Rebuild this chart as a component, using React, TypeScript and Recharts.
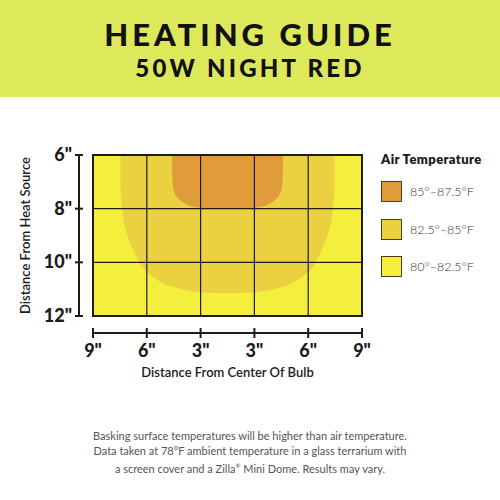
import React from 'react';
import {
  ComposedChart,
  Area,
  XAxis,
  YAxis,
  ReferenceArea,
  ReferenceLine,
  Label
} from 'recharts';

// columns are evenly spaced, labelled outward from the bulb
const xTicks = [0, 1, 2, 3, 4, 5];
const xTickLabels = ['9"', '6"', '3"', '3"', '6"', '9"'];
const yTicks = [6, 8, 10, 12];
const yTickLabels = ['6"', '8"', '10"', '12"'];

// 82.5-85F zone: lower edge (inches from heat source) along the width
const warmX = [0.51, 0.54, 0.63, 0.75, 0.87, 1.03, 1.25, 1.49, 1.86, 2.04, 2.5, 2.96, 3.14, 3.51, 3.75, 3.97, 4.13, 4.25, 4.37, 4.46, 4.49];
const warmDepth = [7.2, 8.0, 8.92, 9.54, 10.04, 10.41, 10.72, 10.91, 11.09, 11.13, 11.14, 11.13, 11.09, 10.91, 10.72, 10.41, 10.04, 9.54, 8.92, 8.0, 7.2];

// 85-87.5F zone
const hotX = [1.47, 1.48, 1.52, 1.62, 1.77, 1.93, 2.08, 2.5, 2.92, 3.07, 3.23, 3.38, 3.48, 3.52, 3.53];
const hotDepth = [6.6, 7.06, 7.43, 7.68, 7.87, 7.95, 7.99, 8.0, 7.99, 7.95, 7.87, 7.68, 7.43, 7.06, 6.6];

const legendLabels = ['85°–87.5°F', '82.5°–85°F', '80°–82.5°F'];

const HOT = '#e09b3b';
const WARM = '#ebd13f';
const MILD = '#f4ef3d';
const INK = '#1c1c1c';
const legendColors = [HOT, WARM, MILD];

const CHART_H = 500;
const MARGIN = { top: 155, right: 138, bottom: 120, left: 23 };
const X_AXIS_H = 64;
const PLOT_H = CHART_H - MARGIN.top - MARGIN.bottom - X_AXIS_H;
const Y_STEP = PLOT_H / (yTicks.length - 1);

const allX = Array.from(new Set([...warmX, ...hotX])).sort((a, b) => a - b);
const data = allX.map((x) => {
  const wi = warmX.indexOf(x);
  const hi = hotX.indexOf(x);
  return {
    x,
    warm: wi >= 0 ? [yTicks[0], warmDepth[wi]] : null,
    hot: hi >= 0 ? [yTicks[0], hotDepth[hi]] : null
  };
});

const XTick = (props: any) => {
  const { x, y, payload } = props;
  return (
    <text x={x} y={y + 31} textAnchor="middle" fontSize={18} fontWeight={900} fill={INK}>
      {xTickLabels[xTicks.indexOf(payload.value)]}
    </text>
  );
};

// y axis sits a little left of the plot: tick marks and the axis line are drawn here
const YTick = (props: any) => {
  const { x, y, payload } = props;
  const last = payload.value === yTicks[yTicks.length - 1];
  return (
    <g>
      {!last ? (
        <line x1={x - 6} x2={x - 6} y1={y} y2={y + Y_STEP} stroke={INK} strokeWidth={2} />
      ) : null}
      <line x1={x - 10} x2={x - 2} y1={y} y2={y} stroke={INK} strokeWidth={2} />
      <text x={x - 13} y={y} dy={6} textAnchor="end" fontSize={18} fontWeight={900} fill={INK}>
        {yTickLabels[yTicks.indexOf(payload.value)]}
      </text>
    </g>
  );
};

const App: React.FC = () => {
  return (
    <div
      style={{
        position: 'fixed',
        left: 0,
        top: 0,
        width: 500,
        height: 500,
        background: '#fff',
        fontFamily: 'Lato, sans-serif',
        overflow: 'hidden'
      }}
    >
      <div
        style={{
          position: 'absolute',
          left: 0,
          top: 0,
          width: 500,
          height: 97,
          background: '#dde85b',
          textAlign: 'center',
          color: '#111'
        }}
      >
        <div style={{ position: 'absolute', top: 19, width: '100%', fontSize: 31, fontWeight: 900, letterSpacing: 4, lineHeight: '30px' }}>
          HEATING GUIDE
        </div>
        <div style={{ position: 'absolute', top: 57, width: '100%', fontSize: 24, fontWeight: 900, letterSpacing: 3.2, lineHeight: '22px' }}>
          50W NIGHT RED
        </div>
      </div>

      <div style={{ position: 'absolute', left: 0, top: 0 }}>
        <ComposedChart width={500} height={CHART_H} data={data} margin={MARGIN}>
          <XAxis
            type="number"
            dataKey="x"
            domain={[0, 5]}
            ticks={xTicks}
            height={X_AXIS_H}
            tickSize={10}
            tickMargin={0}
            axisLine={{ stroke: INK, strokeWidth: 2, transform: 'translate(0,17)' }}
            tickLine={{ stroke: INK, strokeWidth: 2, transform: 'translate(0,12)' }}
            tick={<XTick />}
          >
            <Label
              value="Distance From Center Of Bulb"
              position="insideBottom"
              offset={3}
              style={{ fontSize: 13, fontWeight: 600, fill: INK }}
            />
          </XAxis>
          <YAxis
            type="number"
            domain={[6, 12]}
            reversed
            ticks={yTicks}
            width={70}
            tickSize={8}
            tickMargin={0}
            axisLine={false}
            tickLine={false}
            tick={<YTick />}
          >
            <Label
              value="Distance From Heat Source"
              angle={-90}
              position="insideLeft"
              offset={-4}
              dx={6}
              style={{ textAnchor: 'middle', fontSize: 13, fontWeight: 600, fill: INK }}
            />
          </YAxis>

          <ReferenceArea x1={0} x2={5} y1={6} y2={12} fill={MILD} fillOpacity={1} stroke="none" zIndex={50} />
          <Area
            type="monotone"
            dataKey="warm"
            stroke="none"
            fill={WARM}
            fillOpacity={1}
            connectNulls
            isAnimationActive={false}
            activeDot={false}
          />
          <Area
            type="monotone"
            dataKey="hot"
            stroke="none"
            fill={HOT}
            fillOpacity={1}
            connectNulls
            isAnimationActive={false}
            activeDot={false}
          />
          {[1, 2, 3, 4].map((v) => (
            <ReferenceLine key={'vx' + v} x={v} stroke={INK} strokeWidth={1.2} zIndex={150} />
          ))}
          {[8, 10].map((v) => (
            <ReferenceLine key={'hy' + v} y={v} stroke={INK} strokeWidth={1.2} zIndex={150} />
          ))}
          <ReferenceArea x1={0} x2={5} y1={6} y2={12} fill="none" stroke={INK} strokeWidth={2} zIndex={160} />
        </ComposedChart>
      </div>

      <div style={{ position: 'absolute', left: 381, top: 151, fontSize: 13, fontWeight: 800, letterSpacing: 0.4, color: INK }}>
        Air Temperature
      </div>
      {legendLabels.map((label, i) => (
        <div
          key={label}
          style={{ position: 'absolute', left: 381, top: 181 + i * 37.5, display: 'flex', alignItems: 'center' }}
        >
          <div
            style={{
              width: 19,
              height: 19,
              background: legendColors[i],
              border: '1px solid #4a3f1a',
              marginRight: 8
            }}
          />
          <span style={{ fontSize: 12.5, fontWeight: 300, color: '#333' }}>{label}</span>
        </div>
      ))}

      <div
        style={{
          position: 'absolute',
          left: 0,
          top: 428,
          width: 500,
          textAlign: 'center',
          fontSize: 11,
          lineHeight: '15px',
          color: '#555',
          fontWeight: 400
        }}
      >
        Basking surface temperatures will be higher than air temperature.
        <br />
        Data taken at 78°F ambient temperature in a glass terrarium with
        <br />
        a screen cover and a Zilla<sup style={{ fontSize: 6 }}>®</sup> Mini Dome. Results may vary.
      </div>
    </div>
  );
};

export default App;
